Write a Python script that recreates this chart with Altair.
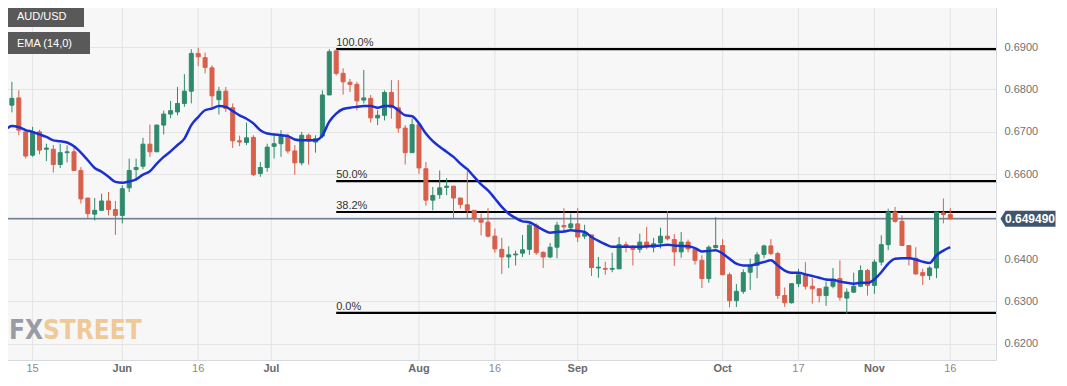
import altair as alt
import pandas as pd

# ---------------- data ----------------
day_index = list(range(-4, 134))   # trading days, 0 = 15 May 2023

opens = [0.6783, 0.6763, 0.6780, 0.6700, 0.6645, 0.6700, 0.6659, 0.6659, 0.6623, 0.6651,
         0.6653, 0.6609, 0.6544, 0.6506, 0.6515, 0.6537, 0.6517, 0.6503, 0.6568, 0.6611,
         0.6619, 0.6671, 0.6653, 0.6716, 0.6742, 0.6747, 0.6767, 0.6796, 0.6885, 0.6875,
         0.6851, 0.6776, 0.6796, 0.6757, 0.6679, 0.6675, 0.6687, 0.6602, 0.6616, 0.6666,
         0.6672, 0.6690, 0.6655, 0.6627, 0.6692, 0.6676, 0.6690, 0.6787, 0.6891, 0.6838,
         0.6817, 0.6812, 0.6775, 0.6779, 0.6733, 0.6739, 0.6793, 0.6757, 0.6709, 0.6651,
         0.6717, 0.6613, 0.6539, 0.6552, 0.6569, 0.6572, 0.6544, 0.6528, 0.6515, 0.6495,
         0.6487, 0.6454, 0.6423, 0.6405, 0.6410, 0.6414, 0.6423, 0.6480, 0.6416, 0.6405,
         0.6428, 0.6479, 0.6474, 0.6483, 0.6454, 0.6457, 0.6379, 0.6378, 0.6376, 0.6377,
         0.6434, 0.6428, 0.6423, 0.6440, 0.6428, 0.6438, 0.6454, 0.6446, 0.6417, 0.6440,
         0.6423, 0.6397, 0.6354, 0.6427, 0.6432, 0.6363, 0.6302, 0.6324, 0.6369, 0.6385,
         0.6411, 0.6431, 0.6413, 0.6314, 0.6297, 0.6342, 0.6363, 0.6336, 0.6330, 0.6314,
         0.6336, 0.6354, 0.6308, 0.6322, 0.6336, 0.6373, 0.6338, 0.6393, 0.6434, 0.6511,
         0.6489, 0.6432, 0.6402, 0.6368, 0.6361, 0.6379, 0.6509, 0.6505]
highs = [0.6791, 0.6818, 0.6798, 0.6706, 0.6712, 0.6705, 0.6672, 0.6669, 0.6672, 0.6668,
         0.6664, 0.6617, 0.6544, 0.6544, 0.6554, 0.6558, 0.6537, 0.6574, 0.6637, 0.6637,
         0.6686, 0.6717, 0.6717, 0.6750, 0.6773, 0.6806, 0.6836, 0.6895, 0.6898, 0.6887,
         0.6857, 0.6806, 0.6806, 0.6767, 0.6691, 0.6722, 0.6692, 0.6629, 0.6672, 0.6692,
         0.6704, 0.6696, 0.6669, 0.6700, 0.6696, 0.6692, 0.6798, 0.6895, 0.6895, 0.6850,
         0.6825, 0.6818, 0.6846, 0.6787, 0.6751, 0.6798, 0.6822, 0.6822, 0.6716, 0.6731,
         0.6722, 0.6629, 0.6570, 0.6609, 0.6591, 0.6572, 0.6544, 0.6607, 0.6515, 0.6507,
         0.6520, 0.6472, 0.6450, 0.6430, 0.6420, 0.6457, 0.6488, 0.6484, 0.6418, 0.6438,
         0.6488, 0.6520, 0.6507, 0.6520, 0.6481, 0.6457, 0.6405, 0.6394, 0.6415, 0.6452,
         0.6441, 0.6433, 0.6460, 0.6476, 0.6450, 0.6474, 0.6513, 0.6459, 0.6464, 0.6446,
         0.6423, 0.6409, 0.6432, 0.6499, 0.6447, 0.6368, 0.6341, 0.6376, 0.6401, 0.6417,
         0.6434, 0.6447, 0.6417, 0.6333, 0.6342, 0.6377, 0.6393, 0.6355, 0.6331, 0.6347,
         0.6379, 0.6397, 0.6331, 0.6368, 0.6385, 0.6377, 0.6399, 0.6456, 0.6519, 0.6523,
         0.6503, 0.6432, 0.6428, 0.6377, 0.6383, 0.6511, 0.6543, 0.6520]
lows = [0.6745, 0.6746, 0.6692, 0.6637, 0.6641, 0.6647, 0.6631, 0.6604, 0.6615, 0.6628,
        0.6609, 0.6531, 0.6497, 0.6491, 0.6515, 0.6503, 0.6457, 0.6484, 0.6558, 0.6585,
        0.6612, 0.6641, 0.6653, 0.6694, 0.6732, 0.6739, 0.6759, 0.6767, 0.6855, 0.6838,
        0.6759, 0.6741, 0.6747, 0.6662, 0.6666, 0.6669, 0.6596, 0.6594, 0.6606, 0.6637,
        0.6641, 0.6649, 0.6599, 0.6621, 0.6623, 0.6651, 0.6685, 0.6787, 0.6833, 0.6788,
        0.6794, 0.6751, 0.6767, 0.6722, 0.6716, 0.6727, 0.6731, 0.6698, 0.6623, 0.6651,
        0.6601, 0.6526, 0.6515, 0.6542, 0.6551, 0.6497, 0.6519, 0.6497, 0.6488, 0.6456,
        0.6451, 0.6415, 0.6365, 0.6379, 0.6385, 0.6405, 0.6410, 0.6410, 0.6379, 0.6402,
        0.6402, 0.6466, 0.6466, 0.6440, 0.6447, 0.6360, 0.6356, 0.6363, 0.6369, 0.6377,
        0.6416, 0.6385, 0.6415, 0.6423, 0.6416, 0.6425, 0.6444, 0.6384, 0.6403, 0.6416,
        0.6387, 0.6332, 0.6344, 0.6425, 0.6363, 0.6286, 0.6287, 0.6318, 0.6327, 0.6355,
        0.6402, 0.6409, 0.6306, 0.6287, 0.6295, 0.6334, 0.6328, 0.6295, 0.6298, 0.6290,
        0.6331, 0.6302, 0.6271, 0.6320, 0.6334, 0.6314, 0.6318, 0.6385, 0.6421, 0.6486,
        0.6432, 0.6385, 0.6363, 0.6339, 0.6351, 0.6355, 0.6484, 0.6494]
closes = [0.6751, 0.6779, 0.6704, 0.6643, 0.6700, 0.6657, 0.6662, 0.6623, 0.6651, 0.6653,
          0.6609, 0.6542, 0.6507, 0.6515, 0.6537, 0.6517, 0.6503, 0.6566, 0.6609, 0.6616,
          0.6671, 0.6653, 0.6716, 0.6742, 0.6750, 0.6767, 0.6796, 0.6885, 0.6877, 0.6852,
          0.6785, 0.6796, 0.6755, 0.6679, 0.6676, 0.6686, 0.6599, 0.6616, 0.6664, 0.6672,
          0.6690, 0.6655, 0.6627, 0.6692, 0.6678, 0.6684, 0.6787, 0.6889, 0.6838, 0.6818,
          0.6812, 0.6773, 0.6780, 0.6733, 0.6739, 0.6793, 0.6757, 0.6709, 0.6651, 0.6717,
          0.6615, 0.6539, 0.6550, 0.6568, 0.6572, 0.6544, 0.6529, 0.6515, 0.6497, 0.6487,
          0.6454, 0.6424, 0.6405, 0.6410, 0.6412, 0.6422, 0.6480, 0.6415, 0.6405, 0.6428,
          0.6480, 0.6476, 0.6483, 0.6452, 0.6460, 0.6380, 0.6381, 0.6376, 0.6378, 0.6434,
          0.6428, 0.6423, 0.6440, 0.6428, 0.6436, 0.6454, 0.6448, 0.6417, 0.6440, 0.6424,
          0.6397, 0.6354, 0.6428, 0.6432, 0.6363, 0.6302, 0.6324, 0.6368, 0.6385, 0.6410,
          0.6431, 0.6413, 0.6314, 0.6297, 0.6342, 0.6363, 0.6336, 0.6330, 0.6314, 0.6334,
          0.6350, 0.6310, 0.6322, 0.6336, 0.6373, 0.6338, 0.6393, 0.6434, 0.6511, 0.6489,
          0.6432, 0.6402, 0.6365, 0.6361, 0.6379, 0.6511, 0.6505, 0.6495]
ema14 = [0.6704, 0.6714, 0.6711, 0.6704, 0.6700, 0.6694, 0.6688, 0.6680, 0.6678, 0.6675,
         0.6666, 0.6651, 0.6633, 0.6615, 0.6606, 0.6594, 0.6582, 0.6580, 0.6583, 0.6588,
         0.6599, 0.6607, 0.6625, 0.6641, 0.6654, 0.6669, 0.6684, 0.6716, 0.6735, 0.6751,
         0.6755, 0.6761, 0.6759, 0.6749, 0.6739, 0.6731, 0.6720, 0.6704, 0.6696, 0.6694,
         0.6692, 0.6690, 0.6682, 0.6680, 0.6680, 0.6680, 0.6692, 0.6724, 0.6743, 0.6754,
         0.6757, 0.6759, 0.6761, 0.6761, 0.6757, 0.6761, 0.6761, 0.6751, 0.6739, 0.6737,
         0.6720, 0.6696, 0.6678, 0.6665, 0.6653, 0.6641, 0.6625, 0.6612, 0.6594, 0.6576,
         0.6562, 0.6543, 0.6523, 0.6507, 0.6497, 0.6489, 0.6487, 0.6478, 0.6469, 0.6462,
         0.6464, 0.6465, 0.6468, 0.6466, 0.6464, 0.6452, 0.6443, 0.6435, 0.6429, 0.6429,
         0.6429, 0.6429, 0.6429, 0.6430, 0.6431, 0.6432, 0.6434, 0.6432, 0.6431, 0.6430,
         0.6426, 0.6418, 0.6419, 0.6421, 0.6413, 0.6401, 0.6389, 0.6385, 0.6385, 0.6389,
         0.6393, 0.6397, 0.6385, 0.6373, 0.6368, 0.6368, 0.6364, 0.6360, 0.6356, 0.6352,
         0.6351, 0.6347, 0.6344, 0.6342, 0.6344, 0.6344, 0.6352, 0.6369, 0.6389, 0.6401,
         0.6402, 0.6402, 0.6399, 0.6394, 0.6391, 0.6409, 0.6420, 0.6428]

tick_pos = [0, 13, 24, 34.6, 56, 67, 79, 100, 111, 122, 133]
tick_lab = ["15", "Jun", "16", "Jul", "Aug", "16", "Sep", "Oct", "17", "Nov", "16"]
tick_month = [False, True, False, True, True, False, True, True, False, True, False]

fib_pct = ["100.0%", "50.0%", "38.2%", "0.0%"]
fib_val = [0.6895, 0.6584, 0.6511, 0.6273]
fib_start = [44, 44, 44, 44]

last_price = [0.64949]
last_label = ["0.649490"]
y_ticks = [0.62, 0.63, 0.64, 0.65, 0.66, 0.67, 0.68, 0.69]

# ---------------- tables ----------------
candles = pd.DataFrame({"i": day_index, "o": opens, "h": highs, "l": lows, "c": closes})
candles["top"] = candles[["o", "c"]].max(axis=1)
candles["bot"] = candles[["o", "c"]].min(axis=1)
candles["dir"] = ["up" if c >= o else "down" for o, c in zip(opens, closes)]
ema_df = pd.DataFrame({"i": day_index, "ema": ema14})
ticks_df = pd.DataFrame({"pos": tick_pos, "lab": tick_lab, "month": tick_month})
fib_df = pd.DataFrame({"pct": fib_pct, "val": fib_val, "start": fib_start})
price_df = pd.DataFrame({"p": last_price, "lab": last_label})
one = pd.DataFrame({"k": [0]})

GREEN = "#2f8a6d"
RED = "#d8604b"
FONT = "Liberation Sans"

xs = alt.Scale(domain=[-4.0, 138.9], nice=False, zero=False)
ys = alt.Scale(domain=[0.6162, 0.7011], nice=False, zero=False)
yax = alt.Axis(orient="right", values=y_ticks, format=".4f", labelColor="#707070",
               labelExpr="abs(datum.value - 0.65) < 0.0001 ? '' : datum.label",
               labelFontSize=11, labelPadding=8, ticks=False, domain=False, grid=True,
               gridColor="#e4e4e4", title=None, labelFont=FONT)
dir_scale = alt.Scale(domain=["up", "down"], range=[GREEN, RED])

vgrid = alt.Chart(ticks_df).mark_rule(color="#e4e4e4", strokeWidth=1).encode(
    x=alt.X("pos:Q", scale=xs, axis=None), y=alt.value(0), y2=alt.value(360))

XLAB_Y = 369
xl_month = alt.Chart(ticks_df).transform_filter("datum.month").mark_text(
    fontSize=11, fontWeight="bold", color="#6a6a6a", font=FONT, baseline="middle").encode(
    x=alt.X("pos:Q", scale=xs, axis=None), y=alt.value(XLAB_Y), text="lab:N")
xl_day = alt.Chart(ticks_df).transform_filter("!datum.month").mark_text(
    fontSize=11, color="#8a8a8a", font=FONT, baseline="middle").encode(
    x=alt.X("pos:Q", scale=xs, axis=None), y=alt.value(XLAB_Y), text="lab:N")

fib_lines = alt.Chart(fib_df).mark_rule(color="#000000", strokeWidth=2.2).encode(
    x=alt.X("start:Q", scale=xs, axis=None), x2=alt.value(996),
    y=alt.Y("val:Q", scale=ys, axis=yax))
fib_text = alt.Chart(fib_df).mark_text(align="left", baseline="alphabetic", dy=-3,
                                       fontSize=11, color="#333333", font=FONT).encode(
    x=alt.X("start:Q", scale=xs, axis=None), y=alt.Y("val:Q", scale=ys, axis=yax), text="pct:N")

price_line = alt.Chart(price_df).mark_rule(color="#2e4468", strokeWidth=1).encode(
    x=alt.value(0), x2=alt.value(996), y=alt.Y("p:Q", scale=ys, axis=yax))

wicks = alt.Chart(candles).mark_rule(strokeWidth=1).encode(
    x=alt.X("i:Q", scale=xs, axis=None), y=alt.Y("l:Q", scale=ys, axis=yax), y2="h:Q",
    color=alt.Color("dir:N", scale=dir_scale, legend=None))
bodies = alt.Chart(candles).mark_bar(size=4, strokeWidth=1, orient="vertical").encode(
    x=alt.X("i:Q", scale=xs, axis=None), y=alt.Y("top:Q", scale=ys, axis=yax), y2="bot:Q",
    color=alt.Color("dir:N", scale=dir_scale, legend=None),
    stroke=alt.Stroke("dir:N", scale=dir_scale, legend=None))

ema_line = alt.Chart(ema_df).mark_line(color="#1b30d2", strokeWidth=2.5,
                                       interpolate="monotone").encode(
    x=alt.X("i:Q", scale=xs, axis=None), y=alt.Y("ema:Q", scale=ys, axis=yax))

tag_shape = "M -1 0 L -0.82 -0.29 L 1 -0.29 L 1 0.29 L -0.82 0.29 Z"
tag = alt.Chart(price_df).mark_point(shape=tag_shape, size=3025, filled=True,
                                     color="#3f556b", opacity=1).encode(
    x=alt.value(1028), y=alt.Y("p:Q", scale=ys, axis=yax))
tag_text = alt.Chart(price_df).mark_text(color="white", fontWeight="bold", fontSize=12,
                                         font=FONT, baseline="middle").encode(
    x=alt.value(1030), y=alt.Y("p:Q", scale=ys, axis=yax), text="lab:N")

# legend boxes (top-left)
box1 = alt.Chart(one).mark_rect(color="#595959").encode(
    x=alt.value(5), x2=alt.value(84), y=alt.value(5), y2=alt.value(27))
box1s = alt.Chart(one).mark_rect(color=GREEN).encode(
    x=alt.value(5), x2=alt.value(8), y=alt.value(5), y2=alt.value(27))
box1t = alt.Chart(one).mark_text(text="AUD/USD", color="white", fontSize=11, font=FONT,
                                 align="left", baseline="middle").encode(
    x=alt.value(17), y=alt.value(16.5))
box2 = alt.Chart(one).mark_rect(color="#595959").encode(
    x=alt.value(5), x2=alt.value(90), y=alt.value(32), y2=alt.value(54))
box2s = alt.Chart(one).mark_rect(color="#1b30d2").encode(
    x=alt.value(5), x2=alt.value(8), y=alt.value(32), y2=alt.value(54))
box2t = alt.Chart(one).mark_text(text="EMA (14,0)", color="white", fontSize=11, font=FONT,
                                 align="left", baseline="middle").encode(
    x=alt.value(17), y=alt.value(43.5))

# watermark
WM_FONT = "DejaVu Sans Condensed, Liberation Sans"
wm1 = alt.Chart(one).mark_text(text="FX", color="#8f939c", fontSize=26, fontWeight="bold",
                               font=WM_FONT, align="right", baseline="alphabetic",
                               opacity=0.9).encode(x=alt.value(43), y=alt.value(339))
wm2 = alt.Chart(one).mark_text(text="STREET", color="#efc58d", fontSize=26, fontWeight="bold",
                               font=WM_FONT, align="left", baseline="alphabetic",
                               opacity=0.9).encode(x=alt.value(43), y=alt.value(339))

chart = alt.layer(
    vgrid, wm1, wm2, fib_lines, fib_text, price_line, wicks, bodies, ema_line,
    tag, tag_text, xl_month, xl_day, box1, box1s, box1t, box2, box2s, box2t
).properties(
    width=996, height=360,
    padding={"left": -8, "top": -8, "right": 63, "bottom": 15},
    autosize="none",
    background="white",
).configure_view(fill="#f7f7f7", stroke="#d6d9de", strokeWidth=1)

chart.save("out.html", embed_options={"renderer": "svg", "actions": False})
